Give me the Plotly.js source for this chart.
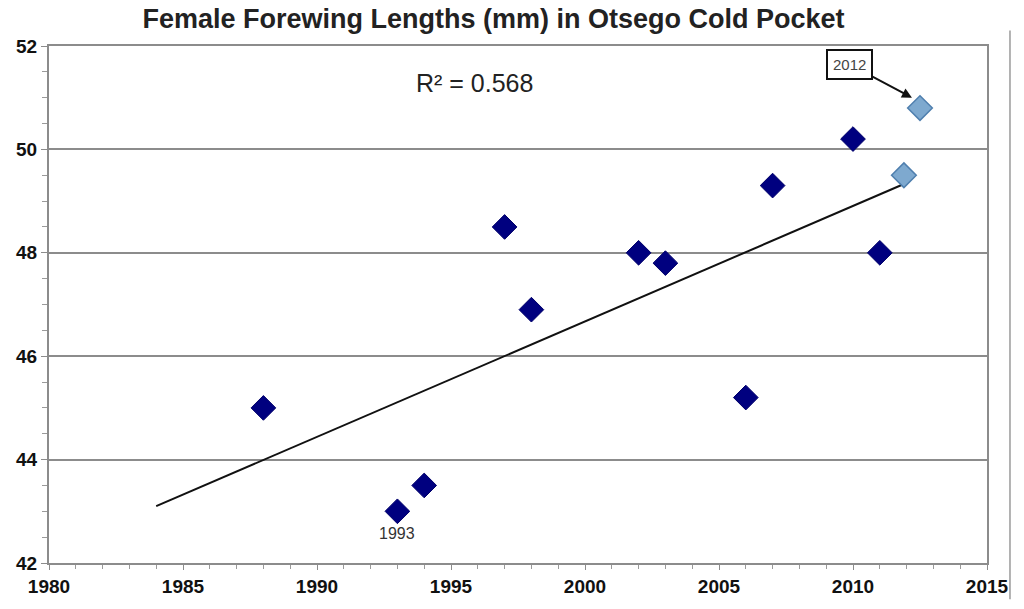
<!DOCTYPE html>
<html>
<head>
<meta charset="utf-8">
<script src="https://cdn.plot.ly/plotly-3.0.1.min.js"></script>
<style>
  html, body { margin: 0; padding: 0; background: #fff; }
  #myDiv { width: 1024px; height: 609px; }
</style>
</head>
<body>
<div id="myDiv"></div>
<script>
// yearly mean female forewing length (mm)
var years = [1988, 1993, 1994, 1997, 1998, 2002, 2003, 2006, 2007, 2010, 2011];
var lengths = [45.0, 43.0, 43.5, 48.5, 46.9, 48.0, 47.8, 45.2, 49.3, 50.2, 48.0];

// 2012 samples, drawn in a lighter colour
var years2012 = [2011.9, 2012.5];
var lengths2012 = [49.5, 50.8];

// linear trend end points
var trendX = [1984.0, 2011.9];
var trendY = [43.1, 49.33];

var xTicks = [1980, 1985, 1990, 1995, 2000, 2005, 2010, 2015];
var yTicks = [42, 44, 46, 48, 50, 52];

var trend = {
  x: trendX,
  y: trendY,
  mode: 'lines',
  line: {color: '#111', width: 2},
  hoverinfo: 'skip',
  type: 'scatter'
};
var main = {
  x: years,
  y: lengths,
  mode: 'markers',
  marker: {
    symbol: 'diamond',
    size: 19,
    color: '#00007f',
    line: {color: '#00006a', width: 1}
  },
  type: 'scatter'
};
var recent = {
  x: years2012,
  y: lengths2012,
  mode: 'markers',
  marker: {
    symbol: 'diamond',
    size: 19,
    color: '#7ea9cf',
    line: {color: '#4f7fae', width: 1.5}
  },
  type: 'scatter'
};

var tickFont = {family: 'Liberation Sans', size: 19, color: '#111', weight: 'bold'};

var layout = {
  width: 1024,
  height: 609,
  showlegend: false,
  paper_bgcolor: '#fff',
  plot_bgcolor: '#fff',
  margin: {l: 49, r: 37, t: 46, b: 46},
  title: {
    text: '<b>Female Forewing Lengths (mm) in Otsego Cold Pocket</b>',
    font: {family: 'Liberation Sans', size: 27, color: '#222'},
    x: 0.482,
    xanchor: 'center',
    y: 0.97,
    yanchor: 'middle'
  },
  xaxis: {
    range: [1980, 2015],
    tickvals: xTicks,
    ticktext: xTicks.map(String),
    tickfont: tickFont,
    showgrid: false,
    zeroline: false,
    showline: true,
    linecolor: '#8c8c8c',
    linewidth: 2,
    mirror: true,
    ticks: 'outside',
    ticklen: 5,
    tickcolor: '#8c8c8c',
    minor: {dtick: 1, ticks: 'outside', ticklen: 4, tickcolor: '#9a9a9a'}
  },
  yaxis: {
    range: [42, 52],
    tickvals: yTicks,
    ticktext: yTicks.map(String),
    tickfont: tickFont,
    showgrid: true,
    gridcolor: '#8c8c8c',
    gridwidth: 1.5,
    zeroline: false,
    showline: true,
    linecolor: '#8c8c8c',
    linewidth: 2,
    mirror: true,
    ticks: 'outside',
    ticklen: 6,
    tickcolor: '#8c8c8c',
    minor: {dtick: 0.5, ticks: 'outside', ticklen: 5, tickcolor: '#9a9a9a', showgrid: false}
  },
  annotations: [
    {
      x: 1995.86, y: 51.28, xref: 'x', yref: 'y',
      text: 'R\u00b2 = 0.568',
      showarrow: false,
      font: {family: 'Liberation Sans', size: 25, color: '#222'}
    },
    {
      x: 1993.0, y: 42.58, xref: 'x', yref: 'y',
      text: '1993',
      showarrow: false,
      font: {family: 'Liberation Sans', size: 16, color: '#333'}
    },
    {
      x: 2012.2, y: 51.0, xref: 'x', yref: 'y',
      text: '2012',
      showarrow: true,
      ax: -62, ay: -33,
      arrowhead: 2,
      arrowsize: 1,
      arrowwidth: 2,
      arrowcolor: '#111',
      bordercolor: '#111',
      borderwidth: 2,
      borderpad: 5,
      bgcolor: '#fff',
      font: {family: 'Liberation Sans', size: 15, color: '#444'}
    }
  ],
  shapes: [
    {
      type: 'line', xref: 'paper', yref: 'paper',
      x0: 1.0245, x1: 1.0245, y0: -0.07, y1: 1.03,
      line: {color: '#9a9a9a', width: 1.5}
    }
  ]
};

Plotly.newPlot('myDiv', [trend, main, recent], layout, {displayModeBar: false});
</script>
</body>
</html>
